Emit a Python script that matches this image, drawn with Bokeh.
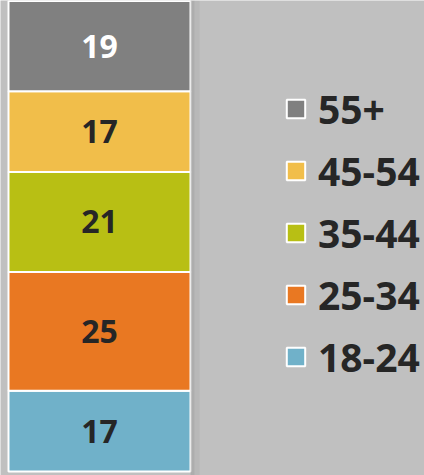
from bokeh.plotting import figure
from bokeh.models import ColumnDataSource, Range1d, Legend, LegendItem, Label, BoxAnnotation
from bokeh.core.properties import value
from bokeh.embed import file_html
from bokeh.resources import INLINE

# ---- data ----
groups = ["18-24", "25-34", "35-44", "45-54", "55+"]
values = [17, 25, 21, 17, 19]
colors = ["#70B1C9", "#E97822", "#B8BF14", "#F1BE4A", "#808080"]
label_colors = ["#262626", "#262626", "#262626", "#262626", "#FFFFFF"]
bar_index = [0]  # single stacked bar

BG = "#C0C0C0"
W, H = 424, 475
BAR_PX = 182.0
LEFT_PX = 8.0
FONT = "Open Sans"

x0 = -0.5 - LEFT_PX / BAR_PX
p = figure(width=W, height=H, output_backend="svg", toolbar_location=None,
           x_range=Range1d(x0, x0 + W / BAR_PX), y_range=Range1d(-0.84, 99.1),
           x_axis_type=None, y_axis_type=None, min_border=0)
p.background_fill_color = BG
p.border_fill_color = BG
p.outline_line_color = None
p.grid.visible = False

# shadow on the right of the bar
p.add_layout(BoxAnnotation(left=190, right=194, left_units="screen", right_units="screen",
                           fill_color="#8a8a8a", fill_alpha=0.35, line_alpha=0))
p.add_layout(BoxAnnotation(left=194, right=199, left_units="screen", right_units="screen",
                           fill_color="#8a8a8a", fill_alpha=0.15, line_alpha=0))

src = ColumnDataSource(dict(x=bar_index, **{g: [v] for g, v in zip(groups, values)}))
rs = p.vbar_stack(groups, x="x", width=1.0, source=src, color=colors,
                  line_color="white", line_width=2)

# value labels
mids, acc = [], 0
for v in values:
    mids.append(acc + v / 2)
    acc += v
lsrc = ColumnDataSource(dict(x=bar_index * len(values), y=mids,
                             text=[str(v) for v in values], color=label_colors))
p.text(x="x", y="y", text="text", source=lsrc, text_color="color",
       text_align="center", text_baseline="middle", text_font=value(FONT),
       text_font_style="bold", text_font_size="32px")

# legend (top to bottom: 55+ ... 18-24)
item_h, spacing = 53, 9
n = len(groups)
total_h = n * item_h + (n - 1) * spacing
top_y = 108 - item_h / 2
items = [LegendItem(label=g, renderers=[r]) for g, r in zip(groups[::-1], rs[::-1])]
legend = Legend(items=items, location=(284, H - top_y - total_h), padding=0, margin=0,
                spacing=spacing, glyph_width=23, glyph_height=23, label_standoff=11,
                label_text_font=FONT, label_text_font_size="39px",
                label_text_font_style="bold", label_text_color="#262626",
                background_fill_alpha=0, border_line_alpha=0)
p.add_layout(legend)

p.add_layout(Label(x=345, y=4, x_units="screen", y_units="screen", text="D",
                   text_baseline="top", text_font=FONT, text_font_style="bold",
                   text_font_size="37px", text_color="#262626"))

open("out.html", "w").write(file_html(p, INLINE))
